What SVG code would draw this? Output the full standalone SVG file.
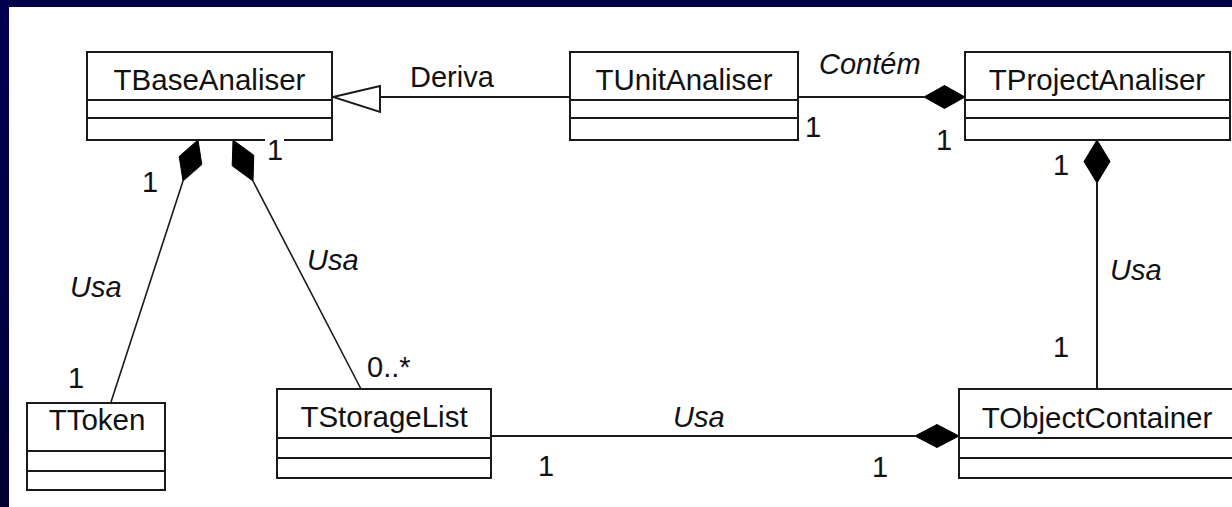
<svg xmlns="http://www.w3.org/2000/svg" width="1232" height="507" viewBox="0 0 1232 507">
  <defs>
    <linearGradient id="leftband" x1="0" y1="0" x2="0" y2="1">
      <stop offset="0" stop-color="#000050"/>
      <stop offset="0.5" stop-color="#000048"/>
      <stop offset="1" stop-color="#000030"/>
    </linearGradient>
    <style>
      .box { fill: #ffffff; stroke: #1a1a1a; stroke-width: 2; }
      .div { stroke: #1a1a1a; stroke-width: 2; }
      .name { font-family: "Liberation Sans", Arial, sans-serif; font-size: 29.5px; fill: #111; text-anchor: middle; }
      .lbl { font-family: "Liberation Sans", Arial, sans-serif; font-size: 29px; fill: #111; }
      .it { font-style: italic; }
      .mid { text-anchor: middle; }
      .conn { stroke: #1a1a1a; stroke-width: 2; fill: none; }
      .diag { stroke: #1a1a1a; stroke-width: 1.6; fill: none; }
      .dia { fill: #000; stroke: #000; stroke-width: 1; }
    </style>
  </defs>

  <rect x="0" y="0" width="1232" height="507" fill="#ffffff"/>
  <rect x="0" y="0" width="1232" height="7" fill="#000048"/>
  <rect x="0" y="0" width="9" height="507" fill="url(#leftband)"/>

  <g id="connectors">
    <!-- Deriva (generalization) -->
    <line class="conn" x1="380" y1="97" x2="570" y2="97"/>
    <polygon points="333,97 380,86 380,112" fill="#ffffff" stroke="#1a1a1a" stroke-width="2"/>
    <!-- Contém -->
    <line class="conn" x1="798" y1="97" x2="924" y2="97"/>
    <polygon class="dia" points="924,97 944.5,85.5 965,97 944.5,108.5"/>
    <!-- TProjectAnaliser - TObjectContainer -->
    <polygon class="dia" points="1097,140 1110,161.5 1097,183 1084,161.5"/>
    <line class="conn" x1="1097" y1="183" x2="1097" y2="389"/>
    <!-- TStorageList - TObjectContainer -->
    <line class="conn" x1="491" y1="436" x2="915" y2="436"/>
    <polygon class="dia" points="915,436 937,424.5 959,436 937,447.5"/>
    <!-- TBaseAnaliser - TToken -->
    <line class="diag" x1="111" y1="402" x2="183" y2="181"/>
    <polygon class="dia" points="198,140 201.8,164.6 183,181 179.2,156.4"/>
    <!-- TBaseAnaliser - TStorageList -->
    <line class="diag" x1="253" y1="181" x2="361" y2="389"/>
    <polygon class="dia" points="233,140 253.8,155.2 253,181 232.2,165.8"/>
  </g>

  <g id="TBaseAnaliser">
    <rect class="box" x="87" y="52" width="245" height="88"/>
    <line class="div" x1="87" y1="100" x2="332" y2="100"/>
    <line class="div" x1="87" y1="118" x2="332" y2="118"/>
    <text class="name" x="209.5" y="90">TBaseAnaliser</text>
  </g>

  <g id="TUnitAnaliser">
    <rect class="box" x="570" y="52" width="228" height="88"/>
    <line class="div" x1="570" y1="100" x2="798" y2="100"/>
    <line class="div" x1="570" y1="118" x2="798" y2="118"/>
    <text class="name" x="684" y="90">TUnitAnaliser</text>
  </g>

  <g id="TProjectAnaliser">
    <rect class="box" x="965" y="52" width="265" height="88"/>
    <line class="div" x1="965" y1="100" x2="1230" y2="100"/>
    <line class="div" x1="965" y1="118" x2="1230" y2="118"/>
    <text class="name" x="1097" y="90">TProjectAnaliser</text>
  </g>

  <g id="TToken">
    <rect class="box" x="27" y="403" width="138" height="87"/>
    <line class="div" x1="27" y1="451" x2="165" y2="451"/>
    <line class="div" x1="27" y1="471" x2="165" y2="471"/>
    <text class="name" x="97" y="430">TToken</text>
  </g>

  <g id="TStorageList">
    <rect class="box" x="277" y="389" width="214" height="89"/>
    <line class="div" x1="277" y1="438" x2="491" y2="438"/>
    <line class="div" x1="277" y1="458" x2="491" y2="458"/>
    <text class="name" x="384" y="427">TStorageList</text>
  </g>

  <g id="TObjectContainer">
    <rect class="box" x="959" y="389" width="280" height="89"/>
    <line class="div" x1="959" y1="438" x2="1239" y2="438"/>
    <line class="div" x1="959" y1="458" x2="1239" y2="458"/>
    <text class="name" x="1097" y="428">TObjectContainer</text>
  </g>

  <g id="labels">
    <text class="lbl" x="410" y="87">Deriva</text>
    <text class="lbl it" x="819" y="74">Contém</text>
    <text class="lbl mid" x="813" y="137">1</text>
    <text class="lbl mid" x="944" y="150">1</text>
    <text class="lbl mid" x="1061" y="175">1</text>
    <text class="lbl it" x="1110" y="280">Usa</text>
    <text class="lbl mid" x="1061" y="357">1</text>
    <text class="lbl mid" x="880" y="477">1</text>
    <text class="lbl mid" x="546" y="476">1</text>
    <text class="lbl it" x="673" y="427">Usa</text>
    <text class="lbl" x="367" y="377">0..*</text>
    <text class="lbl it" x="307" y="270">Usa</text>
    <rect x="265" y="136" width="19" height="8" fill="#ffffff"/>
    <text class="lbl mid" x="275" y="160">1</text>
    <text class="lbl mid" x="150" y="192">1</text>
    <text class="lbl it" x="70" y="297">Usa</text>
    <text class="lbl mid" x="76" y="388">1</text>
  </g>
</svg>
